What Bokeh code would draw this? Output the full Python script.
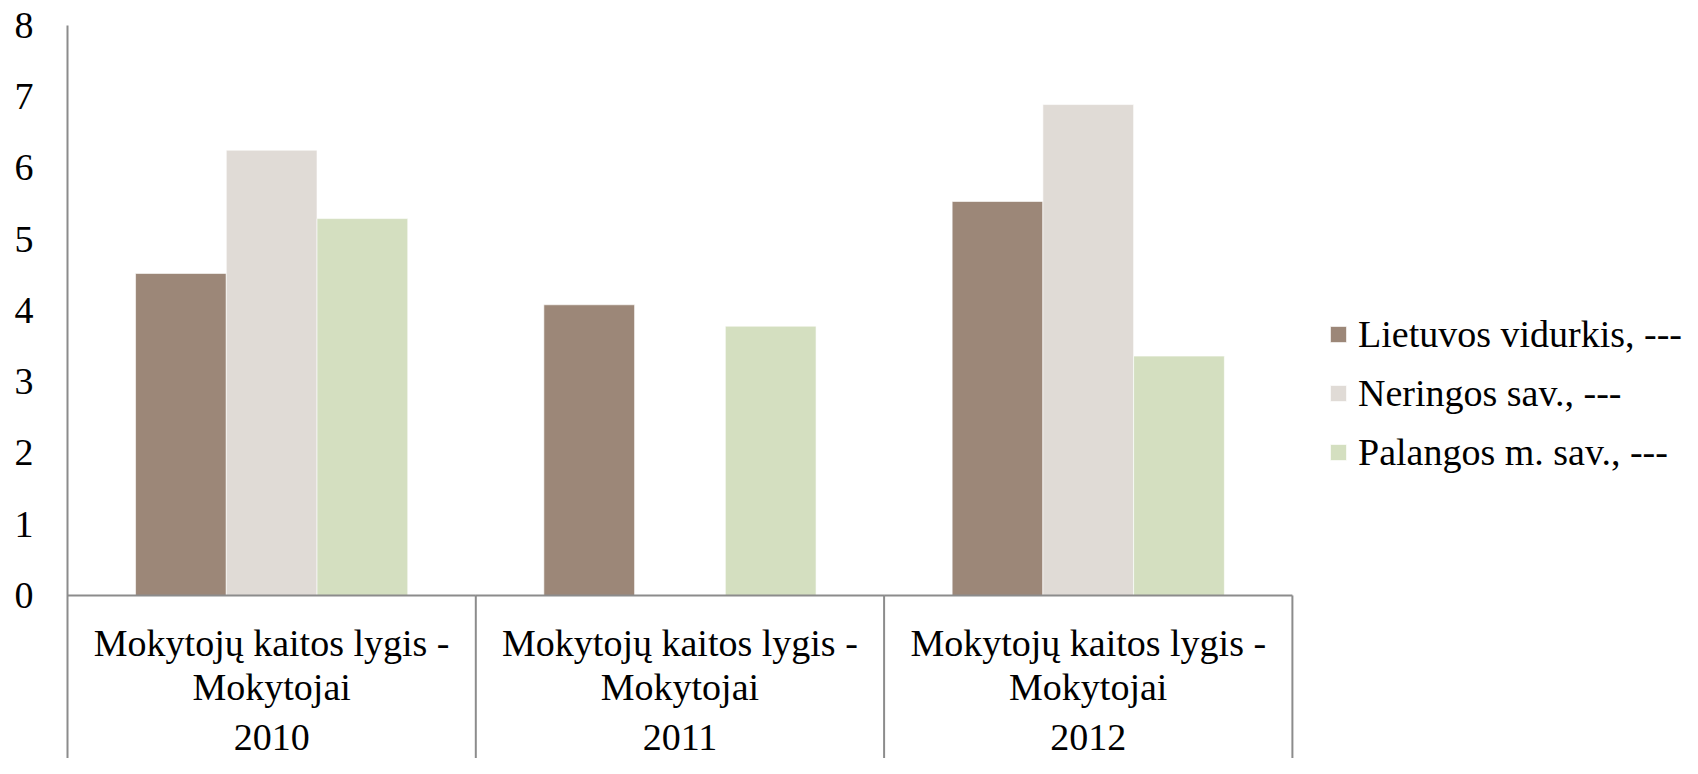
from bokeh.plotting import figure
from bokeh.models import (Range1d, FixedTicker, Legend, LegendItem, ColumnDataSource)
from bokeh.transform import dodge
from bokeh.core.properties import value
from bokeh.embed import file_html
from bokeh.resources import INLINE

# ---- data ----
years = ["2010", "2011", "2012"]
category_labels = ["Mokytojų kaitos lygis -\nMokytojai"] * 3
series_names = ["Lietuvos vidurkis, ---", "Neringos sav., ---", "Palangos m. sav., ---"]
lietuvos = [4.52, 4.08, 5.53]
neringos = [6.25, float("nan"), 6.89]
palangos = [5.29, 3.78, 3.36]
y_ticks = [0, 1, 2, 3, 4, 5, 6, 7, 8]

colors = ["#9C8778", "#E0DBD6", "#D4DFC0"]
axis_color = "#8C8C8C"
FONT = "Liberation Serif"

n = len(years)
src = ColumnDataSource(dict(
    year=years, label=category_labels,
    xc=[i + 0.5 for i in range(n)],      # category centres
    xs=[i for i in range(n)],            # category left edges
    xe=[i + 1 for i in range(n)],        # category right edges
    lietuvos=lietuvos, neringos=neringos, palangos=palangos))

W, H = 1682, 758
LEFT = 67
Y_BOTTOM = -2.288
PX_PER_CAT = 408.3
p = figure(width=W, height=H, output_backend="svg", toolbar_location=None,
           x_range=Range1d(0, (W - LEFT) / PX_PER_CAT),
           y_range=Range1d(Y_BOTTOM, 8), x_axis_location=None,
           min_border_left=LEFT, min_border_top=25, min_border_bottom=0,
           min_border_right=0)
p.outline_line_color = None
p.xgrid.visible = False
p.ygrid.visible = False
p.background_fill_color = "white"

# y axis
ya = p.yaxis[0]
ya.ticker = FixedTicker(ticks=y_ticks)
ya.axis_line_color = axis_color
ya.axis_line_width = 2
ya.major_tick_line_color = None
ya.minor_tick_line_color = None
ya.major_tick_out = 0
ya.major_tick_in = 0
ya.major_label_standoff = 34
ya.major_label_text_font = FONT
ya.major_label_text_font_size = "38px"
ya.major_label_text_color = "black"

bw = 1.0 / 4.5
cols = ["lietuvos", "neringos", "palangos"]
offsets = [-bw, 0.0, bw]
renderers = []
for c, off, col in zip(cols, offsets, colors):
    r = p.vbar(x=dodge("xc", off), top=c, bottom=0, width=bw,
               source=src, fill_color=col, line_color="white", line_alpha=0.6, line_width=1)
    renderers.append(r)

# zero (category) axis line
p.segment(x0="xs", y0=0, x1="xe", y1=0, source=src, line_color=axis_color, line_width=2)

# category separators
p.segment(x0="xe", y0=0, x1="xe", y1=Y_BOTTOM,
          source=src, line_color=axis_color, line_width=2)

# category labels
p.text(x="xc", y=-0.976, text="label", source=src, text_align="center",
       text_baseline="middle", text_font=value(FONT), text_font_size="38px",
       text_color="black", text_line_height=1.04)
p.text(x="xc", y=-1.99, text="year", source=src, text_align="center",
       text_baseline="middle", text_font=value(FONT), text_font_size="38px",
       text_color="black")

legend = Legend(items=[LegendItem(label=nm, renderers=[r]) for nm, r in zip(series_names, renderers)],
                location=(1261, 284), glyph_width=20, glyph_height=20, label_standoff=10,
                label_text_font=FONT, label_text_font_size="38px", label_text_color="black",
                label_height=45, spacing=14, padding=0, margin=0, border_line_color=None,
                background_fill_alpha=0)
p.add_layout(legend)

open("out.html", "w").write(file_html(p, INLINE))
